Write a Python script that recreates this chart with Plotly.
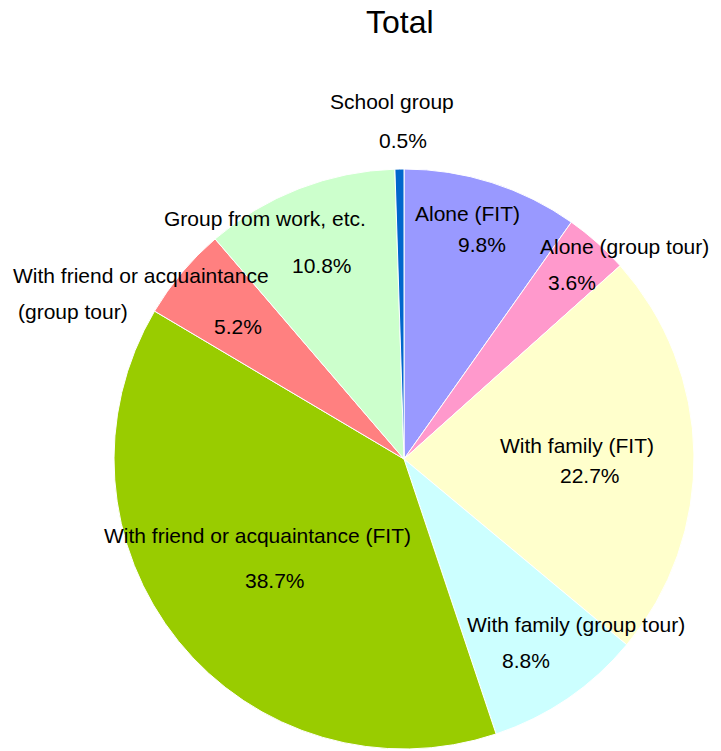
import plotly.graph_objects as go

categories = ["Alone (FIT)", "Alone (group tour)", "With family (FIT)", "With family (group tour)",
              "With friend or acquaintance (FIT)", "With friend or acquaintance (group tour)",
              "Group from work, etc.", "School group"]
values = [9.8, 3.6, 22.7, 8.8, 38.7, 5.2, 10.8, 0.5]
colors = ["#9999FF", "#FF99CC", "#FFFFCC", "#CCFFFF", "#99CC00", "#FF8080", "#CCFFCC", "#0066CC"]
pct_labels = [f"{v}%" for v in values]

W, H = 721, 751
cx, cy, r = 404, 459, 290

fig = go.Figure(go.Pie(
    labels=categories, values=values, sort=False, direction="clockwise", rotation=0,
    marker=dict(colors=colors, line=dict(color="white", width=1)),
    textinfo="none", hoverinfo="label+percent", showlegend=False,
    domain=dict(x=[(cx - r) / W, (cx + r) / W], y=[(H - cy - r) / H, (H - cy + r) / H]),
))

# label text lines: (text, x_px, y_px) in screenshot pixels
label_lines = [
    ("School group", 392, 102), (pct_labels[7], 403, 140),
    ("Alone (FIT)", 467, 213), (pct_labels[0], 482, 244),
    ("Alone (group tour)", 624, 246), (pct_labels[1], 572, 282),
    ("With family (FIT)", 577, 446), (pct_labels[2], 590, 476),
    ("With family (group tour)", 576, 624), (pct_labels[3], 526, 660),
    ("With friend or acquaintance (FIT)", 257, 535), (pct_labels[4], 275, 580),
    ("With friend or acquaintance", 141, 276), ("(group tour)", 73, 311), (pct_labels[5], 238, 326),
    ("Group from work, etc.", 265, 218), (pct_labels[6], 322, 265),
]
for txt, x, y in label_lines:
    fig.add_annotation(text=txt, x=x / W, y=1 - y / H, xref="paper", yref="paper",
                       showarrow=False, xanchor="center", yanchor="middle",
                       font=dict(family="Liberation Sans, Arial", size=21, color="black"))

fig.add_annotation(text="Total", x=400 / W, y=1 - 22 / H, xref="paper", yref="paper",
                   showarrow=False, xanchor="center", yanchor="middle",
                   font=dict(family="Liberation Sans, Arial", size=32, color="black"))

fig.update_layout(width=W, height=H, margin=dict(l=0, r=0, t=0, b=0),
                  paper_bgcolor="white", plot_bgcolor="white")
fig.write_html("out.html", config={"displayModeBar": False},
               post_script="document.body.style.margin='0';")
